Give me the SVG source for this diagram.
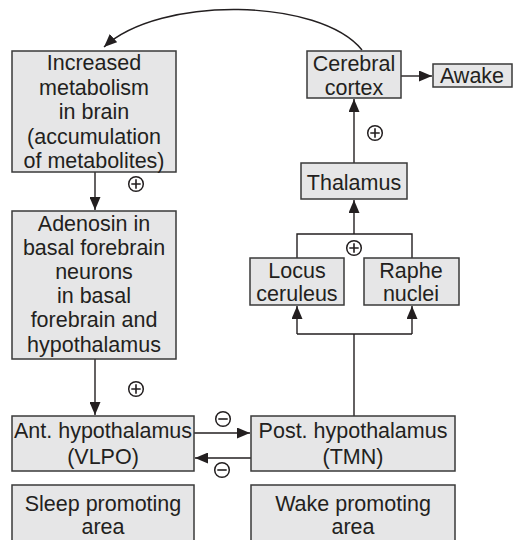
<svg xmlns="http://www.w3.org/2000/svg" width="515" height="540" viewBox="0 0 515 540">
<style>
.box{fill:#e6e6e7;stroke:#3a3a3a;stroke-width:1.5}
text{font-family:"Liberation Sans",Arial,sans-serif;font-size:21.5px;fill:#231f20;text-anchor:middle}
.ln{fill:none;stroke:#231f20;stroke-width:1.4}
.sg{fill:#fff;stroke:#231f20;stroke-width:1.5}
.sl{stroke:#231f20;stroke-width:1.6}
</style>
<defs>
<marker id="ah" viewBox="0 0 13 11" refX="13" refY="5.5" markerWidth="13" markerHeight="11" markerUnits="userSpaceOnUse" orient="auto">
<path d="M0,0 L13,5.5 L0,11 Z" fill="#231f20"/>
</marker>
</defs>
<rect width="515" height="540" fill="#fff"/>
<g id="connectors">
<path class="ln" d="M362,50 C320,-2 160,-5 104,47" marker-end="url(#ah)"/>
<path class="ln" d="M95,172 V210" marker-end="url(#ah)"/>
<path class="ln" d="M95,359 V415" marker-end="url(#ah)"/>
<path class="ln" d="M194,433 H250" marker-end="url(#ah)"/>
<path class="ln" d="M251,458 H195" marker-end="url(#ah)"/>
<path class="ln" d="M354,416 V334 M297,334 H412"/>
<path class="ln" d="M297,334 V306" marker-end="url(#ah)"/>
<path class="ln" d="M412,334 V306" marker-end="url(#ah)"/>
<path class="ln" d="M297,258 V234 H412 V258"/>
<path class="ln" d="M354,234 V200" marker-end="url(#ah)"/>
<path class="ln" d="M354,163 V99" marker-end="url(#ah)"/>
<path class="ln" d="M401,76 H432" marker-end="url(#ah)"/>
<g id="signs">
<circle class="sg" cx="136" cy="184" r="7.3"/><path class="sl" d="M131.3,184 H140.7 M136,179.3 V188.7"/>
<circle class="sg" cx="136" cy="389" r="7.3"/><path class="sl" d="M131.3,389 H140.7 M136,384.3 V393.7"/>
<circle class="sg" cx="375" cy="133" r="7.3"/><path class="sl" d="M370.3,133 H379.7 M375,128.3 V137.7"/>
<circle class="sg" cx="354" cy="248" r="7.3"/><path class="sl" d="M349.3,248 H358.7 M354,243.3 V252.7"/>
<circle class="sg" cx="223" cy="419" r="7.3"/><path class="sl" d="M218.3,419 H227.7"/>
<circle class="sg" cx="222" cy="470" r="7.3"/><path class="sl" d="M217.3,470 H226.7"/>
</g>
</g>
<g id="metabolism">
<rect class="box" x="12" y="51" width="164" height="121"/>
<text x="94" y="70">Increased</text>
<text x="94" y="95">metabolism</text>
<text x="94" y="119">in brain</text>
<text x="94" y="144">(accumulation</text>
<text x="94" y="168">of metabolites)</text>
</g>
<g id="adenosin">
<rect class="box" x="12" y="211" width="164" height="148"/>
<text x="94" y="231">Adenosin in</text>
<text x="94" y="255">basal forebrain</text>
<text x="94" y="279">neurons</text>
<text x="94" y="303">in basal</text>
<text x="94" y="327">forebrain and</text>
<text x="94" y="352">hypothalamus</text>
</g>
<g id="ant">
<rect class="box" x="12" y="416" width="182" height="55"/>
<text x="103" y="438">Ant. hypothalamus</text>
<text x="103" y="464">(VLPO)</text>
</g>
<g id="post">
<rect class="box" x="251" y="416" width="204" height="55"/>
<text x="353" y="438">Post. hypothalamus</text>
<text x="353" y="464">(TMN)</text>
</g>
<g id="sleep">
<rect class="box" x="12" y="485" width="182" height="62"/>
<text x="103" y="511">Sleep promoting</text>
<text x="103" y="534">area</text>
</g>
<g id="wake">
<rect class="box" x="251" y="485" width="204" height="62"/>
<text x="353" y="511">Wake promoting</text>
<text x="353" y="534">area</text>
</g>
<g id="locus">
<rect class="box" x="250" y="258" width="94" height="47"/>
<text x="297" y="278">Locus</text>
<text x="297" y="301">ceruleus</text>
</g>
<g id="raphe">
<rect class="box" x="364" y="258" width="95" height="47"/>
<text x="411" y="278">Raphe</text>
<text x="411" y="301">nuclei</text>
</g>
<g id="thalamus">
<rect class="box" x="301" y="163" width="106" height="36"/>
<text x="354" y="190">Thalamus</text>
</g>
<g id="cortex">
<rect class="box" x="307" y="51" width="94" height="47"/>
<text x="354" y="71">Cerebral</text>
<text x="354" y="95">cortex</text>
</g>
<g id="awake">
<rect class="box" x="433" y="64" width="79" height="23"/>
<text x="472" y="83">Awake</text>
</g>
</svg>
